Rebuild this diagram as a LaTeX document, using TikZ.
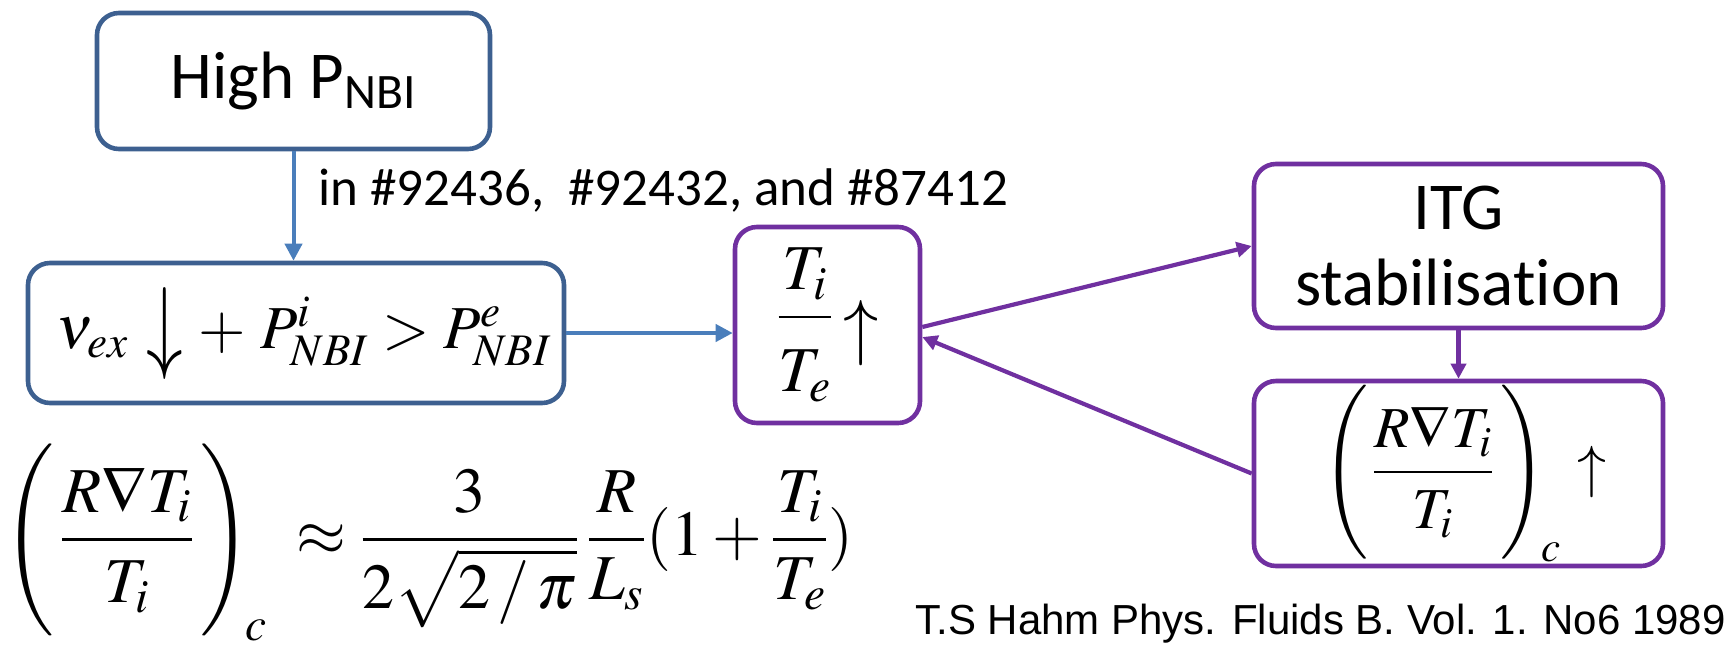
\documentclass[tikz,border=0pt]{standalone}
\usepackage{amsmath}
\usepackage{mathptmx}
\usepackage[no-math]{fontspec}
\setmainfont{Carlito}[Ligatures=NoCommon]
\newfontfamily\citefont{Liberation Sans}
\usetikzlibrary{arrows.meta}
\definecolor{boxblue}{HTML}{3D6090}
\definecolor{arrowblue}{HTML}{4A7EBB}
\definecolor{itgpurple}{HTML}{7030A0}
% stretched arrow symbol: #1 horizontal scale, #2 vertical scale, #3 raise, #4 symbol
\newcommand\tallarrow[4]{\mathord{\raisebox{#3}{$\vcenter{\hbox{\scalebox{#1}[#2]{$#4$}}}$}}}
\begin{document}
\begin{tikzpicture}[x=0.5pt,y=-0.5pt,
  box/.style={draw, line width=2.3pt, rounded corners=11pt, inner sep=0pt, align=center},
  bluebox/.style={box, draw=boxblue},
  purplebox/.style={box, draw=itgpurple},
  flow/.style={line width=2pt, -{Triangle[length=8.5pt,width=8.5pt]}},
  loopflow/.style={line width=2.1pt, -{Triangle[length=7.5pt,width=7.5pt]}},
  bigtext/.style={font=\fontsize{33.5}{40}\selectfont},
  mathtext/.style={font=\fontsize{32}{38}\selectfont}]
\useasboundingbox (0,0) rectangle (1733,644);

% blue chain: beam power and heating balance
\node[bluebox, bigtext, minimum width=196.5pt, minimum height=68pt] (high) at (293.5,81)
  {High P\textsubscript{NBI}};
\node[bluebox, font=\fontsize{30.5}{36}\selectfont, minimum width=268pt, minimum height=70pt] (cond) at (296,333)
  {\hspace{8pt}$\nu_{ex}\hspace{9pt}\tallarrow{1.2}{1.7}{0pt}{\downarrow}\,+\,P^{i}_{NBI} > P^{e}_{NBI}$};
\node[anchor=west, inner sep=0pt, font=\fontsize{26.5}{32}\selectfont] (shots) at (318,190)
  {in \#92436,\ \ \#92432, and \#87412};

% purple loop: temperature ratio and ITG threshold
\node[purplebox, mathtext, minimum width=92.5pt, minimum height=98pt] (ratio) at (827.5,325)
  {$\dfrac{T_i}{\rule{0pt}{33pt}T_e}\hspace{5pt}\tallarrow{1.1}{1.15}{-8pt}{\uparrow}$};
\node[purplebox, bigtext, minimum width=204.5pt, minimum height=82pt] (itg) at (1458.5,246)
  {ITG\\[-2pt]stabilisation};
\node[purplebox, font=\fontsize{29}{34}\selectfont, minimum width=204.5pt, minimum height=92.5pt] (grad) at (1458.5,473.5)
  {\hspace{6pt}$\left(\rule[-35pt]{0pt}{83pt}\hspace{2pt}\dfrac{R\nabla T_i}{\rule{0pt}{24pt}T_i}\hspace{3pt}\right)_{\!c}\hspace{5pt}\tallarrow{1}{1}{0pt}{\uparrow}$};

% threshold formula and reference
\node[mathtext, anchor=west, inner sep=0pt] (threshold) at (3,541)
  {$\left(\rule[-41.5pt]{0pt}{99pt}\hspace{3pt}\dfrac{R\nabla T_i}{\rule{0pt}{27pt}T_i}\hspace{3pt}\right)_{\!c}\;\approx\dfrac{3}{2\sqrt{2\,/\,\pi}}\,\dfrac{R}{L_s}(1+\dfrac{T_i}{\rule{0pt}{25pt}T_e})$};
\node[anchor=east, inner sep=0pt, font=\citefont\fontsize{21}{25}\selectfont] (cite) at (1726,624)
  {T.S Hahm Phys. Fluids B. Vol. 1. No6 1989};

% connectors
\draw[flow, arrowblue] (high.south) -- (high.south |- cond.north);
\draw[flow, arrowblue] (cond.east) -- (cond.east -| ratio.west);
\draw[loopflow, itgpurple] ([yshift=-1pt]ratio.east) -- (itg.west);
\draw[loopflow, itgpurple] (grad.west) -- ([yshift=-6pt]ratio.east);
\draw[loopflow, itgpurple] (itg.south) -- (itg.south |- grad.north);
\end{tikzpicture}
\end{document}
